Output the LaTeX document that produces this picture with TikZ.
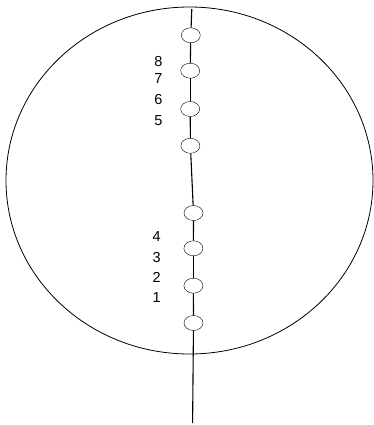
\documentclass[tikz,border=0pt]{standalone}
\usepackage{fontspec}
\setmainfont{Liberation Sans}
\usetikzlibrary{shapes.geometric}
\begin{document}
\begin{tikzpicture}[x=1pt, y=-1pt,
    bead/.style={draw, ellipse, minimum width=19pt, minimum height=15pt, inner sep=0pt},
    wire/.style={line width=1.1pt},
    every node/.style={font=\fontsize{14.5}{17}\selectfont}]
    \useasboundingbox (0,0) rectangle (374,425);

    % Garis luar
    \draw[line width=0.8pt] (189.5,180.5) ellipse [x radius=183.5pt, y radius=173.5pt];

    % Ujung garis tengah
    \coordinate (top) at (191.8,9);
    \coordinate (bot) at (192.6,423);

    % Manik atas
    \node[bead] (o1) at (190.8,35.3) {};
    \node[bead] (o2) at (190.2,70.7) {};
    \node[bead] (o3) at (190.2,109) {};
    \node[bead] (o4) at (190.4,145.8) {};

    % Manik bawah
    \node[bead] (o5) at (193.5,213) {};
    \node[bead] (o6) at (193.4,248.3) {};
    \node[bead] (o7) at (193.4,285.7) {};
    \node[bead] (o8) at (193.5,323) {};

    % Garis tengah
    \draw[wire] (top) -- (o1);
    \draw[wire] (o1) -- (o2);
    \draw[wire] (o2) -- (o3);
    \draw[wire] (o3) -- (o4);
    \draw[wire] (o4) -- (o5);
    \draw[wire] (o5) -- (o6);
    \draw[wire] (o6) -- (o7);
    \draw[wire] (o7) -- (o8);
    \draw[wire] (o8) -- (bot);

    % Angka atas
    \node (n8) at (158.3,61.3) {8};
    \node (n7) at (158.3,78.5) {7};
    \node (n6) at (158.3,100) {6};
    \node (n5) at (158.3,120.5) {5};

    % Angka bawah
    \node (n4) at (156.7,236.2) {4};
    \node (n3) at (156.7,257.2) {3};
    \node (n2) at (156.7,277.2) {2};
    \node (n1) at (156.7,298) {1};
\end{tikzpicture}
\end{document}
